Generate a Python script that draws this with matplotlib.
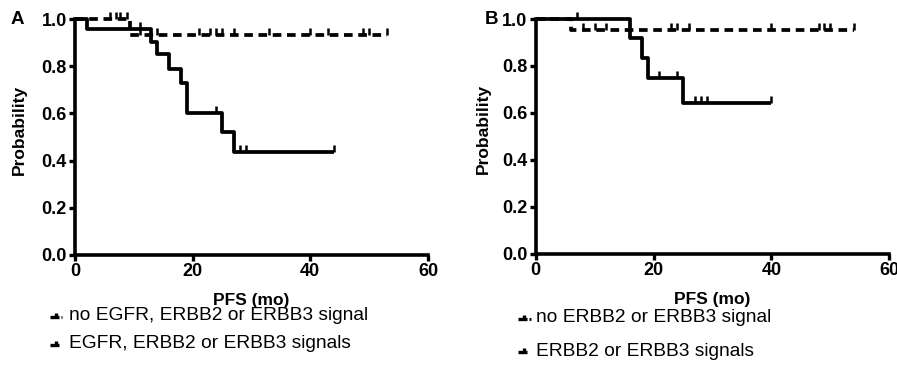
import numpy as np
import matplotlib
matplotlib.use("Agg")
import matplotlib.pyplot as plt
from matplotlib.lines import Line2D

plt.rcParams['font.family'] = ['Liberation Sans', 'DejaVu Sans']

# ---------------- Data ----------------
# Panel A
a_sig_times = [0, 2, 13, 14, 16, 18, 19, 25, 27, 44]
a_sig_surv = [1.0, 0.958, 0.904, 0.85, 0.79, 0.73, 0.60, 0.52, 0.435, 0.435]
a_sig_cens = [11, 24, 28, 29, 44]

a_no_times = [0, 9.4, 53]
a_no_surv = [1.0, 0.933, 0.933]
a_no_cens = [6, 7, 7.6, 8.8, 11, 14, 21, 23, 24, 25, 27, 33, 40, 43, 49, 50, 53]

# Panel B
b_sig_times = [0, 16, 18, 19, 25, 40]
b_sig_surv = [1.0, 0.917, 0.833, 0.75, 0.643, 0.643]
b_sig_cens = [7, 21, 24, 27, 28, 29, 40]

b_no_times = [0, 6, 54]
b_no_surv = [1.0, 0.952, 0.952]
b_no_cens = [8, 10, 12, 23, 24, 26, 40, 48, 49, 50, 54]

x_ticks = [0, 20, 40, 60]
y_ticks = [0.0, 0.2, 0.4, 0.6, 0.8, 1.0]
x_label = "PFS (mo)"
y_label = "Probability"
legend_a = ["no EGFR, ERBB2 or ERBB3 signal", "EGFR, ERBB2 or ERBB3 signals"]
legend_b = ["no ERBB2 or ERBB3 signal", "ERBB2 or ERBB3 signals"]

LW = 2.7
DASH = (0, (2.3, 1.5))

fig = plt.figure(figsize=(8.97, 3.80), dpi=100)


def surv_at(times, surv, t):
    idx = np.searchsorted(times, t, side='right') - 1
    return np.array(surv)[idx]


def draw_curve(ax, times, surv, cens, ls):
    ax.step(times, surv, where='post', color='black', lw=LW, ls=ls,
            clip_on=False, solid_capstyle='butt', dash_capstyle='butt')
    cy = [surv_at(times, surv, t) for t in cens]
    ax.plot(cens, cy, ls='none', marker=2, markersize=5, mew=1.8,
            color='black', clip_on=False)


def style_axes(ax):
    for s in ['top', 'right']:
        ax.spines[s].set_visible(False)
    for s in ['left', 'bottom']:
        ax.spines[s].set_linewidth(2.6)
    ax.set_xlim(0, 60)
    ax.set_ylim(0, 1.0)
    ax.set_xticks(x_ticks)
    ax.set_yticks(y_ticks)
    ax.set_xticklabels([str(v) for v in x_ticks])
    ax.set_yticklabels([f"{v:.1f}" for v in y_ticks])
    ax.tick_params(direction='out', length=4, width=2.4, labelsize=13, pad=2)
    for lab in ax.get_xticklabels() + ax.get_yticklabels():
        lab.set_fontweight('bold')
    ax.set_ylabel(y_label, fontsize=12.5, fontweight='bold', labelpad=5)
    ax.set_xlabel(x_label, fontsize=12.5, fontweight='bold', labelpad=9)


axA = fig.add_axes([0.0836, 0.329, 0.3935, 0.621])
axB = fig.add_axes([0.5972, 0.332, 0.3942, 0.618])

draw_curve(axA, a_no_times, a_no_surv, a_no_cens, DASH)
draw_curve(axA, a_sig_times, a_sig_surv, a_sig_cens, '-')
draw_curve(axB, b_no_times, b_no_surv, b_no_cens, DASH)
draw_curve(axB, b_sig_times, b_sig_surv, b_sig_cens, '-')

style_axes(axA)
style_axes(axB)
axA.yaxis.set_label_coords(-0.135, 0.53)
axB.yaxis.set_label_coords(-0.128, 0.53)

fig.text(11 / 897, 1 - 19 / 380, "A", fontsize=13.5, fontweight='bold', va='center', ha='left')
fig.text(485 / 897, 1 - 19 / 380, "B", fontsize=13.5, fontweight='bold', va='center', ha='left')


def legend_glyph(x0, yc, dashed):
    # small KM-like glyph
    W, H = fig.bbox.width, fig.bbox.height
    fig.add_artist(Line2D([x0 / W, (x0 + 9) / W], [1 - (yc + 1) / H] * 2,
                          color='black', lw=2.4, solid_capstyle='butt',
                          transform=fig.transFigure))
    fig.add_artist(Line2D([(x0 + 6) / W] * 2, [1 - (yc + 1) / H, 1 - (yc - 3) / H],
                          color='black', lw=2.4, solid_capstyle='butt',
                          transform=fig.transFigure))
    if dashed:
        fig.add_artist(Line2D([(x0 + 11) / W, (x0 + 12.5) / W], [1 - (yc + 1) / H] * 2,
                              color='black', lw=2.0, solid_capstyle='butt',
                              transform=fig.transFigure))


def legend(x_glyph, x_text, ycs, labels):
    for i, (yc, lab) in enumerate(zip(ycs, labels)):
        legend_glyph(x_glyph, yc, dashed=(i == 0))
        fig.text(x_text / 897, 1 - yc / 380, lab, fontsize=13.8, va='center', ha='left')


legend(50, 69, [316, 344], legend_a)
legend(518, 536, [318, 351], legend_b)

fig.savefig("out.png", dpi=100)
